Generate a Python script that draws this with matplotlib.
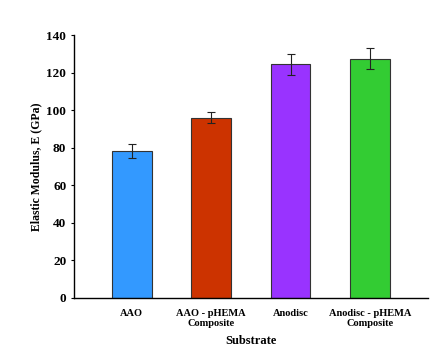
import matplotlib
matplotlib.use("Agg")
import matplotlib.pyplot as plt

categories = ["AAO", "AAO - pHEMA\nComposite", "Anodisc", "Anodisc - pHEMA\nComposite"]
values = [78.5, 96.0, 124.5, 127.5]
errors = [3.7, 3.0, 5.5, 5.5]
colors = ["#3399FF", "#CC3300", "#9933FF", "#33CC33"]
yticks = [0, 20, 40, 60, 80, 100, 120, 140]

plt.rcParams['font.family'] = ['Liberation Serif', 'DejaVu Serif']
plt.rcParams['font.weight'] = 'bold'

fig = plt.figure(figsize=(4.48, 3.48), dpi=100)
ax = fig.add_axes([0.165, 0.144, 0.79, 0.755])
x = list(range(len(categories)))
ax.bar(x, values, width=0.5, color=colors, edgecolor="#333333", linewidth=0.8,
       yerr=errors, error_kw=dict(ecolor="#222222", elinewidth=0.8, capsize=3, capthick=0.8))
ax.set_xlim(-0.73, 3.73)
ax.set_ylim(0, 140)
ax.set_yticks(yticks)
ax.set_xticks(x)
ax.set_xticklabels(categories, fontsize=7.5, fontweight='bold', linespacing=1.1)
ax.tick_params(axis='x', length=0, pad=8)
ax.tick_params(axis='y', labelsize=9.5, length=2.5, width=0.8, direction='out', pad=3)
for lab in ax.get_yticklabels():
    lab.set_fontweight('bold')
ax.spines['top'].set_visible(False)
ax.spines['right'].set_visible(False)
ax.spines['left'].set_linewidth(1.0)
ax.spines['bottom'].set_linewidth(1.0)
ax.set_ylabel("Elastic Modulus, E (GPa)", fontsize=8.5, fontweight='bold', labelpad=3)
ax.set_xlabel("Substrate", fontsize=9, fontweight='bold', labelpad=5)
fig.savefig("out.png", dpi=100)
